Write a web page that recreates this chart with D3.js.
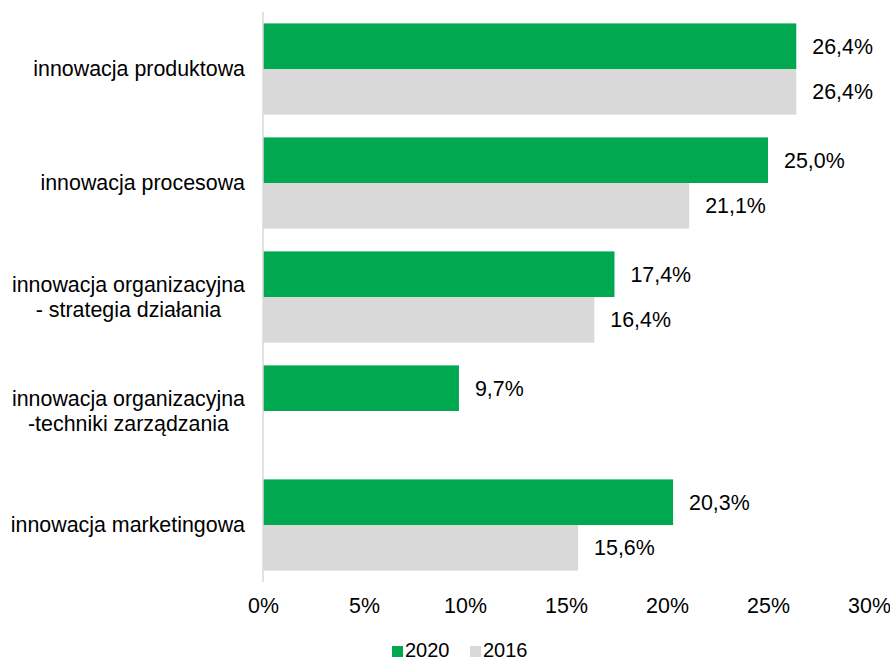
<!DOCTYPE html>
<html><head><meta charset="utf-8">
<script src="https://cdn.jsdelivr.net/npm/d3@7"></script>
<style>body{margin:0;background:#fff}svg{display:block}text{font-family:"Liberation Sans",Arial,sans-serif;fill:#000}</style>
</head><body>
<svg id="c" width="890" height="663"></svg>
<script>
const categories = [
  ["innowacja produktowa"],
  ["innowacja procesowa"],
  ["innowacja organizacyjna", "- strategia działania"],
  ["innowacja organizacyjna", "-techniki zarządzania"],
  ["innowacja marketingowa"]
];
const seriesNames = ["2020", "2016"];
const values2020 = [26.4, 25.0, 17.4, 9.7, 20.3];
const values2016 = [26.4, 21.1, 16.4, null, 15.6];
const xTicks = [0, 5, 10, 15, 20, 25, 30];
const colors = ["#00a94f", "#d9d9d9"];

const svg = d3.select("#c");
const fs = 21.4;
const x = d3.scaleLinear().domain([0, 30]).range([263, 869]);
const y = d3.scaleBand().domain(d3.range(categories.length)).range([12, 582]).paddingInner(0.2).paddingOuter(0.1);
const sub = d3.scaleBand().domain([0, 1]).range([0, y.bandwidth()]);
const fmt = v => v.toFixed(1).replace(".", ",") + "%";
const series = [values2020, values2016];

series.forEach((vals, si) => {
  const g = svg.append("g");
  vals.forEach((v, i) => {
    if (v == null) return;
    const y0 = y(i) + sub(si);
    g.append("rect").attr("x", x(0)).attr("y", y0).attr("width", x(v) - x(0)).attr("height", sub.bandwidth()).attr("fill", colors[si]);
    g.append("text").attr("x", x(v) + 16).attr("y", y0 + sub.bandwidth() / 2).attr("dy", "0.35em").attr("font-size", fs).text(fmt(v));
  });
});

// axis line
svg.append("line").attr("x1", x(0)).attr("x2", x(0)).attr("y1", 12).attr("y2", 582).attr("stroke", "#d9d9d9").attr("stroke-width", 1.5);

// x axis tick labels
const xAxis = d3.axisBottom(x).tickValues(xTicks).tickFormat(d => d + "%").tickSize(0).tickPadding(0);
const ax = svg.append("g").attr("transform", "translate(0,597)").call(xAxis);
ax.select(".domain").remove();
ax.selectAll("text").attr("font-size", fs).attr("font-family", '"Liberation Sans",Arial,sans-serif').attr("fill", "#000").attr("dy", "0.75em");

// category labels
const lh = 25;
categories.forEach((lines, i) => {
  const cy = y(i) + y.bandwidth() / 2;
  const g = svg.append("g");
  const ts = lines.map((l, k) => g.append("text").attr("font-size", fs).attr("text-anchor", "middle")
    .attr("y", cy + (k - (lines.length - 1) / 2) * lh).attr("dy", "0.35em").text(l));
  const maxW = d3.max(ts, t => t.node().getComputedTextLength());
  ts.forEach(t => t.attr("x", 245 - maxW / 2));
});

// legend
const leg = svg.append("g");
const legX = [392, 470];
seriesNames.forEach((n, i) => {
  leg.append("rect").attr("x", legX[i]).attr("y", 646).attr("width", 11).attr("height", 11).attr("fill", colors[i]);
  leg.append("text").attr("x", legX[i] + 13).attr("y", 650).attr("dy", "0.35em").attr("font-size", 20).text(n);
});
</script>
</body></html>
